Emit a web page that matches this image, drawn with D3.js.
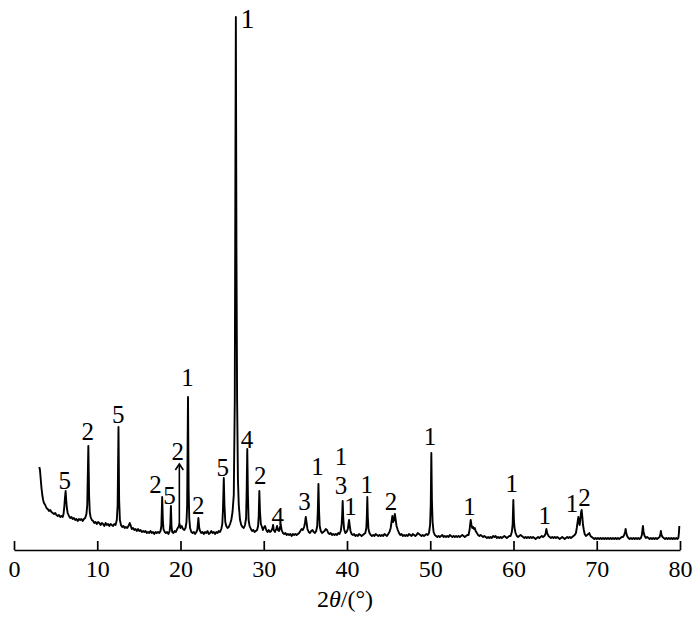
<!DOCTYPE html>
<html>
<head>
<meta charset="utf-8">
<script src="https://cdn.jsdelivr.net/npm/d3@7/dist/d3.min.js"></script>
<style>
  html, body { margin: 0; padding: 0; background: #fff; }
  svg text { font-family: "Liberation Serif", "Times New Roman", serif; fill: #000; }
</style>
</head>
<body>
<svg id="chart" width="700" height="621"></svg>
<script>
// ---- data: [2θ (degrees), intensity (a.u.)] ----
const xrdPattern = [
  [3.04,83],[3.12,80],[3.2,72],[3.3,62],[3.4,55],[3.5,50],[3.6,47],[3.75,45],[3.9,42],[4.05,41],[4.2,39],[4.35,40],[4.5,38],[4.65,37],[4.8,36],[4.95,37],[5.1,35],[5.25,34],[5.4,35],[5.55,33],[5.7,34],[5.85,33],
  [5.95,36],[6.05,44],[6.12,52],[6.2,59],[6.27,50],[6.35,42],[6.45,37],[6.6,34],[6.75,32],[6.9,33],[7.05,31],[7.2,32],[7.35,30],[7.5,31],[7.65,29],[7.8,31],[7.95,30],[8.1,31],[8.25,29],[8.4,31],[8.55,32],
  [8.7,36],[8.8,45],[8.93,104],[9.02,55],[9.1,38],[9.2,33],[9.35,30],[9.5,29],[9.65,27],[9.8,28],[9.95,26],[10.1,28],[10.25,27],[10.4,25],[10.55,27],[10.7,26],[10.85,24],[11.0,27],[11.15,25],[11.3,26],[11.45,24],[11.6,26],[11.75,25],[11.9,24],[12.05,26],[12.2,25],
  [12.35,30],[12.45,45],[12.55,123],[12.63,50],[12.72,30],[12.85,25],[13.0,23],[13.15,24],[13.3,22],[13.45,23],[13.6,22],[13.75,24],[13.9,27],[14.0,25],[14.15,21],[14.3,22],[14.45,20],[14.6,21],[14.75,19],[14.9,21],[15.05,19],[15.2,20],[15.35,18],[15.5,19],[15.65,18],[15.8,19],[15.95,17],[16.1,18],[16.25,17],[16.4,19],[16.55,17],[16.7,18],[16.85,16],[17.0,18],[17.15,17],[17.3,18],[17.45,17],[17.6,19],
  [17.7,24],[17.8,53],[17.88,30],[17.95,21],[18.1,18],[18.25,17],[18.4,18],[18.55,16],[18.7,19],[18.78,26],[18.85,44],[18.92,24],[19.0,18],[19.15,17],[19.3,19],[19.45,18],[19.6,21],[19.75,23],[19.88,26],[20.0,22],[20.15,24],[20.3,21],[20.45,20],[20.6,22],
  [20.72,28],[20.8,45],[20.9,153],[20.98,60],[21.05,32],[21.15,22],[21.3,18],[21.45,17],[21.6,18],[21.75,16],[21.9,18],[22.02,20],[22.15,32],[22.25,22],[22.35,19],[22.5,17],[22.65,18],[22.8,16],[22.95,18],[23.1,17],[23.25,19],[23.4,16],[23.55,17],[23.7,19],[23.85,17],[24.0,18],[24.15,16],[24.3,18],[24.45,17],[24.6,19],[24.75,18],[24.9,21],
  [25.02,26],[25.1,40],[25.2,72],[25.28,45],[25.38,28],[25.5,24],[25.65,22],[25.8,23],[25.95,26],[26.1,30],[26.25,38],[26.4,55],[26.52,150],[26.6,400],[26.65,533],[26.72,300],[26.8,150],[26.9,70],[27.0,45],[27.15,30],[27.3,25],[27.45,23],[27.6,22],[27.75,25],
  [27.88,32],[27.95,60],[28.02,101],[28.1,55],[28.18,30],[28.3,24],[28.45,21],[28.6,19],[28.75,20],[28.9,18],[29.05,19],[29.2,20],[29.32,24],[29.4,35],[29.47,59],[29.55,38],[29.65,26],[29.75,24],[29.9,20],[30.0,22],[30.15,24],[30.3,20],[30.45,18],[30.6,20],[30.75,18],[30.9,19],
  [31.05,22],[31.12,25],[31.2,20],[31.35,18],[31.5,21],[31.6,24],[31.7,20],[31.85,19],[31.95,23],[32.05,25],[32.15,20],[32.3,17],[32.45,16],[32.6,17],[32.75,15],[32.9,16],[33.05,15],[33.2,16],[33.35,14],[33.5,16],[33.65,15],[33.8,16],[33.95,15],[34.1,16],[34.25,17],[34.4,19],[34.55,21],[34.7,20],[34.85,23],[34.95,27],[35.05,33],[35.15,27],[35.25,21],[35.4,18],[35.55,17],[35.7,19],[35.85,20],[36.0,18],[36.15,17],[36.3,19],
  [36.42,24],[36.5,40],[36.57,66],[36.64,40],[36.72,24],[36.85,19],[37.0,17],[37.15,18],[37.3,19],[37.45,21],[37.6,20],[37.75,17],[37.9,16],[38.05,17],[38.2,15],[38.35,16],[38.5,15],[38.65,16],[38.8,15],[38.95,17],[39.1,16],[39.25,19],[39.35,25],[39.42,35],[39.48,49],[39.55,32],[39.65,21],[39.8,17],[39.95,18],[40.1,21],[40.18,26],[40.25,30],[40.32,25],[40.42,19],[40.55,16],[40.7,15],[40.85,16],[41.0,14],[41.15,15],[41.3,14],[41.45,16],[41.6,15],[41.75,14],[41.9,15],[42.05,16],[42.2,17],
  [42.32,22],[42.38,33],[42.44,53],[42.5,33],[42.58,21],[42.7,17],[42.85,15],[43.0,14],[43.15,15],[43.3,14],[43.45,16],[43.6,15],[43.75,14],[43.9,15],[44.05,14],[44.2,15],[44.35,14],[44.5,16],[44.65,15],[44.8,14],[44.95,16],[45.1,18],[45.25,22],[45.38,30],[45.45,34],[45.55,28],[45.65,30],[45.75,36],[45.85,30],[45.95,24],[46.1,20],[46.25,17],[46.4,15],[46.55,16],[46.7,14],[46.85,15],[47.0,14],[47.15,15],[47.3,14],[47.45,16],[47.6,15],[47.75,14],[47.9,16],[48.05,15],[48.2,14],[48.35,15],[48.5,17],[48.65,16],[48.8,15],[48.95,14],[49.1,15],[49.25,14],[49.4,15],[49.55,16],[49.7,15],[49.85,17],
  [49.98,25],[50.06,45],[50.13,97],[50.2,50],[50.28,28],[50.4,18],[50.55,15],[50.7,14],[50.85,13],[51.0,14],[51.15,13],[51.3,14],[51.45,15],[51.6,13],[51.75,14],[51.9,13],[52.05,14],[52.2,13],[52.35,15],[52.5,14],[52.65,13],[52.8,14],[52.95,13],[53.1,14],[53.25,13],[53.4,14],[53.55,13],[53.7,14],[53.85,15],[54.0,14],[54.15,13],[54.3,14],[54.45,15],[54.6,15],
  [54.72,20],[54.8,26],[54.86,30],[54.95,25],[55.05,22],[55.15,23],[55.25,21],[55.35,22],[55.45,19],[55.6,17],[55.75,15],[55.9,14],[56.05,15],[56.2,14],[56.35,13],[56.5,14],[56.65,13],[56.8,12],[56.95,13],[57.1,12],[57.25,13],[57.4,12],[57.55,14],[57.7,13],[57.85,14],[58.0,12],[58.15,13],[58.3,12],[58.45,13],[58.6,12],[58.75,13],[58.9,14],[59.05,13],[59.2,12],[59.35,13],[59.5,14],[59.65,14],
  [59.8,18],[59.9,26],[59.98,50],[60.05,30],[60.12,22],[60.25,17],[60.4,14],[60.55,13],[60.7,14],[60.85,15],[61.0,14],[61.15,13],[61.3,12],[61.45,13],[61.6,12],[61.75,13],[61.9,12],[62.05,13],[62.2,12],[62.35,13],[62.5,12],[62.65,11],[62.8,12],[62.95,13],[63.1,12],[63.25,13],[63.4,14],[63.55,13],[63.7,14],[63.85,16],[63.95,21],[64.05,17],[64.2,14],[64.35,13],[64.5,12],[64.65,13],[64.8,12],[64.95,13],[65.1,12],[65.25,13],[65.4,12],[65.55,11],[65.7,12],[65.85,13],[66.0,12],[66.15,11],[66.3,12],[66.45,13],[66.6,12],[66.75,13],[66.9,12],[67.05,13],[67.2,14],[67.35,15],
  [67.5,17],[67.6,22],[67.7,28],[67.79,33],[67.88,28],[67.95,25],[68.05,32],[68.12,38],[68.19,40],[68.27,33],[68.35,25],[68.45,20],[68.55,16],[68.7,14],[68.85,15],[69.0,16],[69.1,17],[69.25,14],[69.4,13],[69.55,12],[69.7,11],[69.85,12],[70.0,11],[70.15,12],[70.3,11],[70.45,12],[70.6,11],[70.75,12],[70.9,11],[71.05,12],[71.2,11],[71.35,12],[71.5,11],[71.65,12],[71.8,11],[71.95,12],[72.1,11],[72.25,12],[72.4,11],[72.55,12],[72.7,11],[72.85,12],[73.0,13],[73.15,13],
  [73.3,15],[73.4,18],[73.47,21],[73.55,17],[73.65,14],[73.8,12],[73.95,11],[74.1,12],[74.25,11],[74.4,12],[74.55,11],[74.7,12],[74.85,11],[75.0,12],[75.15,11],[75.3,12],[75.42,15],[75.5,21],[75.55,24],[75.62,18],[75.75,14],[75.9,12],[76.05,13],[76.2,12],[76.35,11],[76.5,12],[76.65,11],[76.8,12],[76.95,11],[77.1,12],[77.25,11],[77.4,12],[77.55,13],[77.65,16],[77.7,19],[77.78,15],[77.9,13],[78.05,12],[78.2,11],[78.35,12],[78.5,11],[78.65,12],[78.8,11],[78.95,12],[79.1,11],[79.25,12],[79.4,11],[79.55,12],[79.7,11],[79.8,12],[79.86,16],[79.92,24]
];

// phase labels: text, 2θ position, baseline height (intensity units)
const labelText = ["5","2","5","2","5","2","1","2","5","1","4","2","4","3","1","1","3","1","1","2","1","1","1","1","1","2"];
const labelPos  = [6.09,8.86,12.53,17.0,18.68,19.68,20.84,22.14,25.07,28.05,27.99,29.59,31.69,34.9,36.46,39.28,39.28,40.42,42.37,45.29,49.97,54.71,59.78,63.75,67.03,68.53];
const labelHgt  = [61.5,110,127,57.5,46.5,90.5,164.5,36.5,74.5,522,102.5,66.5,25,40.5,75.5,85.5,56.5,35.5,57.5,40.5,105.5,35.5,58.5,26,38,44];

// arrow under the "2" near 19.9°
const arrowPos = 19.86;
const arrowFrom = 24, arrowTo = 86;

const xTicks = [0,10,20,30,40,50,60,70,80];

// ---- drawing ----
const svg = d3.select("#chart");
const x = d3.scaleLinear().domain([0, 80]).range([14, 680]);
const y = d3.scaleLinear().domain([0, 533]).range([550, 17]);

const line = d3.line().x(d => x(d[0])).y(d => y(d[1]));

svg.append("path")
  .datum(xrdPattern)
  .attr("d", line)
  .attr("fill", "none")
  .attr("stroke", "#000")
  .attr("stroke-width", 1.9)
  .attr("stroke-linejoin", "round");

const axis = d3.axisBottom(x).tickValues(xTicks).tickSizeInner(-9).tickSizeOuter(0).tickPadding(10);
const gx = svg.append("g").attr("transform", `translate(0,${y(0)})`).call(axis);
gx.select(".domain").attr("stroke", "#000").attr("stroke-width", 1.7);
gx.selectAll(".tick line").attr("stroke", "#000").attr("stroke-width", 1.7);
gx.selectAll(".tick text").attr("font-size", 24).attr("font-family", '"Liberation Serif", "Times New Roman", serif').attr("fill", "#000");

// axis title
const title = svg.append("text")
  .attr("x", (x(0) + x(80)) / 2 - 2)
  .attr("y", 607)
  .attr("text-anchor", "middle")
  .attr("font-size", 24);
title.append("tspan").text("2");
title.append("tspan").attr("font-style", "italic").text("θ");
title.append("tspan").text("/(°)");

// peak labels
svg.append("g").selectAll("text")
  .data(labelText)
  .join("text")
  .attr("x", (d, i) => x(labelPos[i]))
  .attr("y", (d, i) => y(labelHgt[i]))
  .attr("text-anchor", "middle")
  .attr("font-size", (d, i) => labelHgt[i] > 500 ? 28 : 25)
  .text(d => d);

// arrow
const ax = x(arrowPos);
svg.append("line")
  .attr("x1", ax).attr("x2", ax)
  .attr("y1", y(arrowFrom)).attr("y2", y(arrowTo))
  .attr("stroke", "#000").attr("stroke-width", 1.6);
svg.append("path")
  .attr("d", `M${ax - 4},${y(arrowTo) + 6}L${ax},${y(arrowTo)}L${ax + 4},${y(arrowTo) + 6}`)
  .attr("fill", "none").attr("stroke", "#000").attr("stroke-width", 1.6);
</script>
</body>
</html>
